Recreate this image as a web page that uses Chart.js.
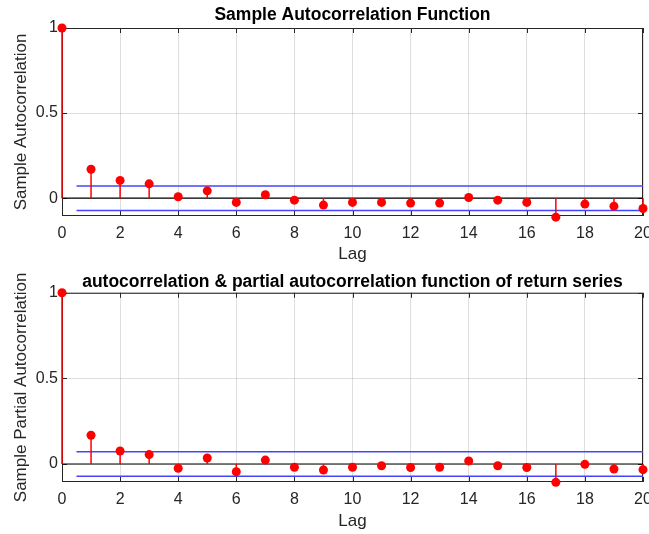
<!DOCTYPE html>
<html>
<head>
<meta charset="utf-8">
<script src="https://cdn.jsdelivr.net/npm/chart.js@4.4.1/dist/chart.umd.min.js"></script>
<style>
  html, body { margin: 0; padding: 0; background: #fff; }
  .panel { position: absolute; left: 0; width: 649px; height: 267px; }
</style>
</head>
<body>
<div class="panel" style="top:0"><canvas id="acfChart"></canvas></div>
<div class="panel" style="top:267px"><canvas id="pacfChart"></canvas></div>
<script>
// data
const lags = [0, 1, 2, 3, 4, 5, 6, 7, 8, 9, 10, 11, 12, 13, 14, 15, 16, 17, 18, 19, 20];
const acfValues = [1, 0.170, 0.104, 0.084, 0.008, 0.043, -0.025, 0.020, -0.012, -0.041, -0.025,
    -0.025, -0.029, -0.029, 0.004, -0.012, -0.025, -0.112, -0.035, -0.047, -0.061];
const pacfValues = [1, 0.168, 0.076, 0.055, -0.025, 0.035, -0.045, 0.023, -0.019, -0.035, -0.019,
    -0.010, -0.020, -0.019, 0.018, -0.010, -0.020, -0.107, -0.002, -0.029, -0.033];
const acfBound = 0.072;
const pacfBound = 0.072;
const boundStart = 0.5;
const xTicks = [0, 2, 4, 6, 8, 10, 12, 14, 16, 18, 20];
const yTicks = [0, 0.5, 1];
const yTickLabels = ['0', '0.5', '1'];
const yMin = -0.105;
const yMax = 1;

const textColor = '#262626';
const gridColor = 'rgba(0,0,0,0.13)';
const fontFamily = 'Liberation Sans, Arial, sans-serif';

// MATLAB-style box with inward ticks
const axesBox = {
    id: 'axesBox',
    beforeDatasetsDraw(chart) {
        const { ctx, chartArea: a, scales } = chart;
        ctx.save();
        ctx.strokeStyle = textColor;
        ctx.lineWidth = 1;
        ctx.strokeRect(a.left + 0.5, a.top + 0.5, a.right - a.left - 1, a.bottom - a.top - 1);
        ctx.beginPath();
        scales.x.ticks.forEach(t => {
            let px = Math.round(scales.x.getPixelForValue(t.value)) + 0.5;
            ctx.moveTo(px, a.top); ctx.lineTo(px, a.top + 5);
            ctx.moveTo(px, a.bottom); ctx.lineTo(px, a.bottom - 5);
        });
        scales.y.ticks.forEach(t => {
            let py = Math.round(scales.y.getPixelForValue(t.value)) + 0.5;
            ctx.moveTo(a.left, py); ctx.lineTo(a.left + 5, py);
            ctx.moveTo(a.right, py); ctx.lineTo(a.right - 5, py);
        });
        ctx.stroke();
        ctx.restore();
    }
};

function stemPoints(values) {
    let pts = [];
    lags.forEach((lag, i) => {
        pts.push({ x: lag, y: 0 }, { x: lag, y: values[i] }, { x: lag, y: null });
    });
    return pts;
}

function getStemChart(values, bound, title, yLabel, titlePad, areaBottom) {
    return {
        type: 'line',
        data: {
            datasets: [
                {
                    data: lags.map((lag, i) => ({ x: lag, y: values[i] })),
                    showLine: false, pointRadius: 4.5, pointBackgroundColor: '#ff0000',
                    pointBorderWidth: 0, clip: false, order: 0
                },
                {
                    data: stemPoints(values), borderColor: '#ff0000', borderWidth: 1.5,
                    pointRadius: 0, spanGaps: false, clip: false, order: 1
                },
                {
                    data: [{ x: boundStart, y: bound }, { x: lags[lags.length - 1], y: bound }],
                    borderColor: '#4444ff', borderWidth: 1.5, pointRadius: 0, order: 2
                },
                {
                    data: [{ x: boundStart, y: -bound }, { x: lags[lags.length - 1], y: -bound }],
                    borderColor: '#4444ff', borderWidth: 1.5, pointRadius: 0, order: 2
                },
                {
                    data: [{ x: lags[0], y: 0 }, { x: lags[lags.length - 1], y: 0 }],
                    borderColor: '#000000', borderWidth: 1.2, pointRadius: 0, order: 3
                }
            ]
        },
        options: {
            responsive: true,
            maintainAspectRatio: false,
            animation: false,
            events: [],
            layout: { padding: { top: 0, right: 6, bottom: 0, left: 0 } },
            plugins: {
                legend: { display: false },
                tooltip: { enabled: false },
                title: {
                    display: true, text: title, color: '#000', fullSize: false,
                    font: { family: fontFamily, size: 17.5, weight: 'bold', lineHeight: 1.2 },
                    padding: titlePad
                }
            },
            scales: {
                x: {
                    type: 'linear', min: lags[0], max: lags[lags.length - 1],
                    afterBuildTicks: s => { s.ticks = xTicks.map(v => ({ value: v })); },
                    afterFit: s => {
                        s.height = 267 - areaBottom;
                        s.paddingLeft = 0;
                        s.paddingRight = 0;
                    },
                    grid: { color: gridColor, drawTicks: false },
                    border: { display: false },
                    ticks: {
                        color: textColor, padding: 8, maxRotation: 0, autoSkip: false,
                        font: { family: fontFamily, size: 16 }
                    },
                    title: {
                        display: true, text: 'Lag', color: textColor,
                        font: { family: fontFamily, size: 17 },
                        padding: { top: 0, bottom: 2 }
                    }
                },
                y: {
                    min: yMin, max: yMax,
                    afterBuildTicks: s => { s.ticks = yTicks.map(v => ({ value: v })); },
                    afterFit: s => {
                        s.width = 62;
                        s.paddingTop = 0;
                        s.paddingBottom = 0;
                    },
                    grid: { color: gridColor, drawTicks: false },
                    border: { display: false },
                    ticks: {
                        color: textColor, padding: 4,
                        font: { family: fontFamily, size: 16 },
                        callback: v => yTickLabels[yTicks.indexOf(v)]
                    },
                    title: {
                        display: true, text: yLabel, color: textColor,
                        font: { family: fontFamily, size: 17 },
                        padding: { top: 11, bottom: 11 }
                    }
                }
            }
        },
        plugins: [axesBox]
    };
}

new Chart(document.getElementById('acfChart'),
    getStemChart(acfValues, acfBound, 'Sample Autocorrelation Function',
        'Sample Autocorrelation', { top: 5, bottom: 2 }, 216));

new Chart(document.getElementById('pacfChart'),
    getStemChart(pacfValues, pacfBound,
        'autocorrelation & partial autocorrelation function of return series',
        'Sample Partial Autocorrelation', { top: 4.2, bottom: 0.6 }, 215));
</script>
</body>
</html>
